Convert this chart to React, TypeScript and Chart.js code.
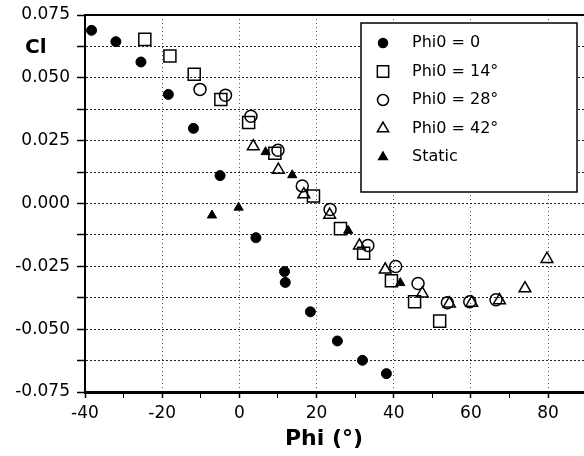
import React, { useEffect, useRef } from 'react';
import { Chart, registerables } from 'chart.js';

Chart.register(...registerables);

// ---- data (Phi in degrees, Cl) ----
const phi0_0_phi = [-38.3, -32.0, -25.5, -18.4, -11.9, -5.0, 4.3, 11.7, 11.9, 18.4, 25.4, 31.9, 38.1];
const phi0_0_cl = [0.0689, 0.0644, 0.0563, 0.0434, 0.0299, 0.0111, -0.0136, -0.0271, -0.0314, -0.0431, -0.0547, -0.0624, -0.0677];

const phi0_14_phi = [-24.5, -18.0, -11.7, -4.8, 2.4, 9.2, 19.2, 26.2, 32.2, 39.4, 45.4, 51.9];
const phi0_14_cl = [0.0653, 0.0587, 0.0514, 0.0414, 0.0322, 0.0200, 0.0030, -0.0100, -0.0198, -0.0307, -0.0391, -0.0468];

const phi0_28_phi = [-10.2, -3.6, 3.0, 10.0, 16.3, 23.5, 33.3, 40.5, 46.3, 53.9, 59.7, 66.5];
const phi0_28_cl = [0.0454, 0.0431, 0.0347, 0.0212, 0.0070, -0.0024, -0.0167, -0.0251, -0.0318, -0.0395, -0.0391, -0.0383];

const phi0_42_phi = [3.6, 10.1, 16.7, 23.4, 31.1, 37.8, 47.4, 54.4, 60.2, 67.4, 74.0, 79.7];
const phi0_42_cl = [0.0227, 0.0134, 0.0036, -0.0045, -0.0168, -0.0263, -0.0358, -0.0398, -0.0395, -0.0385, -0.0338, -0.0221];

const static_phi = [-7.1, -0.2, 6.8, 13.7, 28.2, 41.7];
const static_cl = [-0.0047, -0.0016, 0.0205, 0.0113, -0.0108, -0.0316];

const seriesLabels = ['Phi0 = 0', 'Phi0 = 14°', 'Phi0 = 28°', 'Phi0 = 42°', 'Static'];

const xTicks = [-40, -30, -20, -10, 0, 10, 20, 30, 40, 50, 60, 70, 80];
const yTicks = [-0.075, -0.0625, -0.05, -0.0375, -0.025, -0.0125, 0, 0.0125, 0.025, 0.0375, 0.05, 0.0625, 0.075];

const xTitle = 'Phi (°)';
const yTitle = 'Cl';

const FONT = "'DejaVu Sans', sans-serif";

const toPoints = (xs: number[], ys: number[]) => xs.map((x, i) => ({ x, y: ys[i] }));
const isMajorX = (v: number) => Math.abs(v % 20) < 1e-9;

function drawMarker(ctx: CanvasRenderingContext2D, style: string, x: number, y: number, r: number, filled: boolean) {
  ctx.save();
  ctx.beginPath();
  if (style === 'circle') {
    ctx.arc(x, y, r, 0, Math.PI * 2);
  } else if (style === 'rect') {
    const s = r / Math.SQRT2;
    ctx.rect(x - s, y - s, 2 * s, 2 * s);
  } else {
    let rad = 0;
    ctx.moveTo(x + Math.sin(rad) * r, y - Math.cos(rad) * r);
    rad += (2 * Math.PI) / 3;
    ctx.lineTo(x + Math.sin(rad) * r, y - Math.cos(rad) * r);
    rad += (2 * Math.PI) / 3;
    ctx.lineTo(x + Math.sin(rad) * r, y - Math.cos(rad) * r);
  }
  ctx.closePath();
  if (filled) {
    ctx.fillStyle = '#000';
    ctx.fill();
  }
  ctx.lineWidth = 1.5;
  ctx.strokeStyle = '#000';
  ctx.stroke();
  ctx.restore();
}

const legendMarkers = [
  { style: 'circle', r: 4.5, filled: true },
  { style: 'rect', r: 8, filled: false },
  { style: 'circle', r: 5.5, filled: false },
  { style: 'triangle', r: 6.5, filled: false },
  { style: 'triangle', r: 5, filled: true },
];

const overlayPlugin = {
  id: 'overlay',
  afterDraw(chart: any) {
    const ctx: CanvasRenderingContext2D = chart.ctx;
    const area = chart.chartArea;
    ctx.save();
    // top frame line
    ctx.strokeStyle = '#000';
    ctx.lineWidth = 2;
    ctx.beginPath();
    ctx.moveTo(area.left, area.top);
    ctx.lineTo(area.right, area.top);
    ctx.stroke();

    // axis titles
    ctx.fillStyle = '#000';
    ctx.font = `bold 20px ${FONT}`;
    ctx.textAlign = 'left';
    ctx.textBaseline = 'middle';
    ctx.fillText(yTitle, 25, 48);
    ctx.font = `bold 22px ${FONT}`;
    ctx.textAlign = 'center';
    ctx.fillText(xTitle, 324, 439);

    // legend box
    const bx = 361, by = 23, bw = 216, bh = 169;
    ctx.fillStyle = '#fff';
    ctx.fillRect(bx, by, bw, bh);
    ctx.lineWidth = 1.5;
    ctx.strokeStyle = '#000';
    ctx.strokeRect(bx, by, bw, bh);
    ctx.font = `16px ${FONT}`;
    ctx.textAlign = 'left';
    ctx.textBaseline = 'middle';
    seriesLabels.forEach((label, i) => {
      const y = 43 + i * 28.5;
      const m = legendMarkers[i];
      drawMarker(ctx, m.style, 383, y, m.r, m.filled);
      ctx.fillStyle = '#000';
      ctx.fillText(label, 412, y);
    });
    ctx.restore();
  },
};

export default function App() {
  const ref = useRef<HTMLCanvasElement>(null);
  useEffect(() => {
    const canvas = ref.current;
    if (!canvas) return;
    const black = '#000';
    const open = 'rgba(0,0,0,0)';
    const chart = new Chart(canvas, {
      type: 'scatter',
      data: {
        datasets: [
          { label: seriesLabels[0], data: toPoints(phi0_0_phi, phi0_0_cl), pointStyle: 'circle', pointRadius: 5, backgroundColor: black, borderColor: black, borderWidth: 1 },
          { label: seriesLabels[1], data: toPoints(phi0_14_phi, phi0_14_cl), pointStyle: 'rect', pointRadius: 8.5, backgroundColor: open, borderColor: black, borderWidth: 1.5 },
          { label: seriesLabels[2], data: toPoints(phi0_28_phi, phi0_28_cl), pointStyle: 'circle', pointRadius: 6, backgroundColor: open, borderColor: black, borderWidth: 1.5 },
          { label: seriesLabels[3], data: toPoints(phi0_42_phi, phi0_42_cl), pointStyle: 'triangle', pointRadius: 6.8, backgroundColor: open, borderColor: black, borderWidth: 1.5 },
          { label: seriesLabels[4], data: toPoints(static_phi, static_cl), pointStyle: 'triangle', pointRadius: 5.3, backgroundColor: black, borderColor: black, borderWidth: 1 },
        ] as any,
      },
      options: {
        animation: false,
        responsive: false,
        devicePixelRatio: 1,
        layout: { autoPadding: false, padding: { top: 15, left: 0, right: 0, bottom: 0 } },
        plugins: { legend: { display: false }, tooltip: { enabled: false } },
        scales: {
          x: {
            type: 'linear',
            min: -40,
            max: 89.3,
            afterBuildTicks: (scale: any) => { scale.ticks = xTicks.map((v) => ({ value: v })); },
            afterFit: (scale: any) => { scale.height = 64; scale.paddingLeft = 0; scale.paddingRight = 0; },
            ticks: {
              color: '#000',
              font: { family: FONT, size: 17 },
              padding: 5,
              maxRotation: 0,
              autoSkip: false,
              callback: (v: any) => (isMajorX(Number(v)) ? String(v) : ''),
            },
            grid: {
              color: (c: any) => (c.tick && isMajorX(c.tick.value) ? '#555' : 'rgba(0,0,0,0)'),
              lineWidth: 1,
              tickLength: 6,
              tickColor: '#000',
              tickWidth: (c: any) => (c.tick && isMajorX(c.tick.value) ? 1.5 : 1),
            },
            border: { display: true, color: '#000', width: 3, dash: [1, 3] },
          },
          y: {
            type: 'linear',
            min: -0.075,
            max: 0.075,
            afterBuildTicks: (scale: any) => { scale.ticks = yTicks.map((v) => ({ value: v })); },
            afterFit: (scale: any) => { scale.width = 85; scale.paddingTop = 0; scale.paddingBottom = 0; },
            ticks: {
              color: '#000',
              font: { family: FONT, size: 17 },
              padding: 7,
              autoSkip: false,
              callback: (v: any) => {
                const q = Number(v) / 0.025;
                return Math.abs(q - Math.round(q)) < 1e-6 ? Number(v).toFixed(3) : '';
              },
            },
            grid: { color: '#222', lineWidth: 1, tickLength: 8, tickColor: '#000', tickWidth: 1.5 },
            border: { display: true, color: '#000', width: 2, dash: [2, 2] },
          },
        },
      } as any,
      plugins: [overlayPlugin],
    });
    return () => chart.destroy();
  }, []);
  return (
    <div style={{ position: 'fixed', left: 0, top: 0, width: 584, height: 456, background: '#fff', overflow: 'hidden' }}>
      <canvas ref={ref} width={584} height={456} style={{ display: 'block' }} />
    </div>
  );
}
